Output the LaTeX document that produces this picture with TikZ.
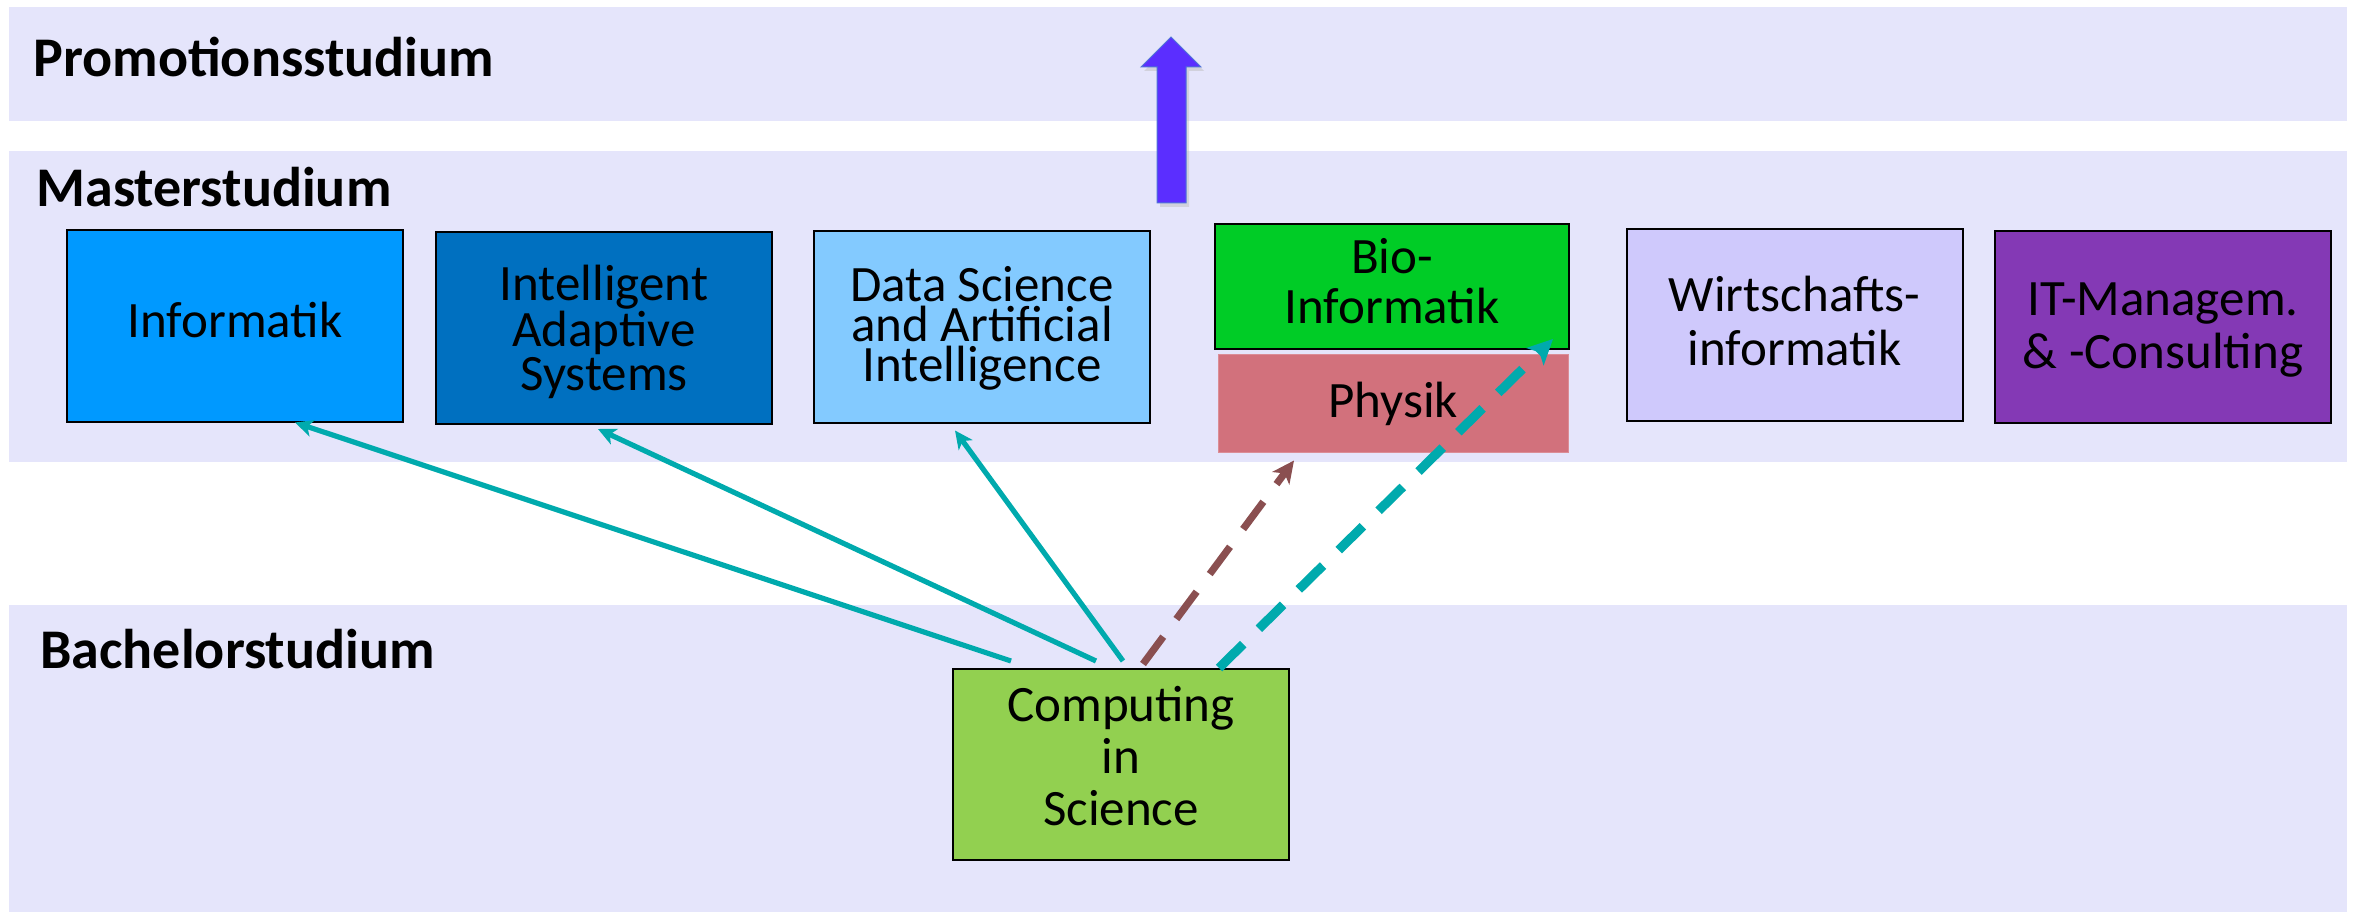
\documentclass[tikz,border=0pt]{standalone}
\usepackage{fontspec}
\setmainfont{Carlito}
\usetikzlibrary{arrows.meta,calc}
\definecolor{band}{HTML}{E5E5FB}
\definecolor{cInf}{HTML}{0099FF}
\definecolor{cIAS}{HTML}{0070C0}
\definecolor{cDS}{HTML}{83CAFF}
\definecolor{cBio}{HTML}{00CC26}
\definecolor{cPhy}{HTML}{D2717C}
\definecolor{cWI}{HTML}{CFC9FC}
\definecolor{cITM}{HTML}{8439B5}
\definecolor{cCIS}{HTML}{92D050}
\definecolor{teal}{HTML}{00AAAD}
\definecolor{brownish}{HTML}{8A4F50}
\definecolor{bigarrow}{HTML}{5B2EFF}
\definecolor{bigarrowline}{HTML}{4F74D8}
\begin{document}
\begin{tikzpicture}[x=0.5pt,y=-0.5pt,
  bandlabel/.style={font=\fontsize{28}{30}\selectfont\bfseries, inner sep=0pt, anchor=base west},
  progbox/.style={draw=black, line width=1pt, inner sep=0pt, minimum width=168pt, minimum height=96pt},
  progtxt/.style={inner sep=0pt, anchor=north, align=center},
  solidarrow/.style={teal, line width=2.6pt, -{Stealth[length=9pt,width=8.5pt,inset=2.5pt]}},
  brdash/.style={brownish, line width=3.6pt, dash pattern=on 17pt off 11pt, -{Stealth[length=11pt,width=10.5pt,inset=3pt]}},
  tldash/.style={teal, line width=4.6pt, dash pattern=on 17pt off 11pt, -{Stealth[length=12.5pt,width=12pt,inset=3pt]}}
]
\useasboundingbox (0,0) rectangle (2356,914);
% bands
\fill[band] (9,7) rectangle (2347,121);
\fill[band] (9,151) rectangle (2347,462);
\fill[band] (9,605) rectangle (2347,912);
\node[bandlabel] (lprom) at (33,77) {Promotionsstudium};
\node[bandlabel] (lmast) at (36,207) {Masterstudium};
\node[bandlabel] (lbach) at (40,668) {Bachelorstudium};

% big arrow to Promotion (with soft shadow)
\fill[black!25, opacity=0.5]
  (1160,207) -- (1160,71) -- (1144,71) -- (1174,41) -- (1204,71) -- (1189,71) -- (1189,207) -- cycle;
\filldraw[fill=bigarrow, draw=bigarrowline, line width=0.5pt]
  (1157,203) -- (1157,67) -- (1141,67) -- (1171,37) -- (1201,67) -- (1186,67) -- (1186,203) -- cycle;

% master boxes
\node[progbox, fill=cInf] (inf) at (235,326.5) {};
\node[progtxt, font=\fontsize{25.5}{20}\selectfont] (tinf) at (235,302) {Informatik};

\node[progbox, fill=cIAS] (ias) at (604,328) {};
\node[progtxt, font=\fontsize{25.5}{20}\selectfont] (tias) at (604,265) {Intelligent\\Adaptive\\Systems};

\node[progbox, fill=cDS] (dsai) at (982,327.5) {};
\node[progtxt, font=\fontsize{25.5}{20}\selectfont] (tdsai) at (982,266) {Data Science\\and Artificial\\Intelligence};

\node[progbox, fill=cBio, minimum width=177pt, minimum height=62.5pt] (bio) at (1392,286.5) {};
\node[progtxt, font=\fontsize{25.5}{25}\selectfont] (tbio) at (1392,238) {Bio-\\Informatik};

\node[progbox, draw=cPhy!80!white, line width=0.5pt, fill=cPhy, minimum width=175pt, minimum height=49pt] (phy) at (1393,404) {};
\node[progtxt, font=\fontsize{25.5}{20}\selectfont] (tphy) at (1393,382) {Physik};

\node[progbox, fill=cWI] (wi) at (1794.5,325) {};
\node[progtxt, font=\fontsize{25.5}{27}\selectfont] (twi) at (1794.5,276) {Wirtschafts-\\informatik};

\node[progbox, fill=cITM] (itm) at (2163,327) {};
\node[progtxt, font=\fontsize{25.5}{26.5}\selectfont] (titm) at (2163,282) {IT-Managem.\\\& -Consulting};

% bachelor box
\node[progbox, fill=cCIS, minimum height=95.5pt] (cis) at (1121,764.5) {};
\node[progtxt, font=\fontsize{25.5}{26}\selectfont] (tcis) at (1121,686) {Computing\\in\\Science};

% connectors
\draw[solidarrow] ($(cis.north)+(-110,-7)$) -- ($(inf.south)+(60,-1)$);
\draw[solidarrow] ($(cis.north)+(-25,-7)$) -- ($(ias.south)+(-6,4)$);
\draw[solidarrow] ($(cis.north)+(2,-7)$) -- ($(dsai.south)+(-27,6)$);
\draw[brdash] ($(cis.north)+(22,-4)$) -- ($(phy.south)+(-99,7)$);
\draw[tldash] ($(cis.north)+(98,0)$) -- ($(bio.south)+(161,-11)$);
\end{tikzpicture}
\end{document}
